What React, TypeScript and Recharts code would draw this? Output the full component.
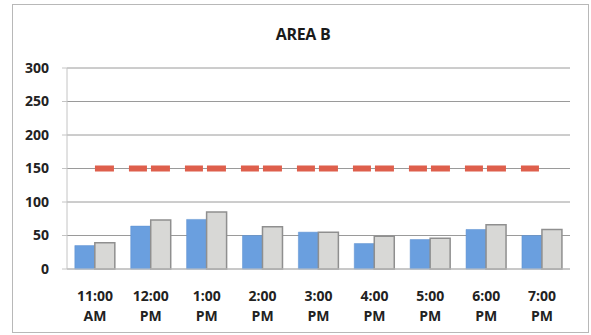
import React from "react";
import {
  ComposedChart,
  Bar,
  Line,
  XAxis,
  YAxis,
  CartesianGrid,
} from "recharts";

const hours = ["11:00", "12:00", "1:00", "2:00", "3:00", "4:00", "5:00", "6:00", "7:00"];
const periods = ["AM", "PM", "PM", "PM", "PM", "PM", "PM", "PM", "PM"];
const seriesA = [35, 64, 74, 50, 55, 38, 44, 59, 50];
const seriesB = [39, 73, 85, 63, 55, 49, 46, 66, 59];
const limit = [150, 150, 150, 150, 150, 150, 150, 150, 150];
const yTicks = [0, 50, 100, 150, 200, 250, 300];

const data = hours.map((h, i) => ({
  label: h,
  period: periods[i],
  a: seriesA[i],
  b: seriesB[i],
  limit: limit[i],
}));

const FONT = "'Open Sans', 'Noto Sans', sans-serif";

// two-line time label: hour on top, AM/PM below
function HourTick(props: any) {
  const { x, y, payload, index } = props;
  return (
    <g transform={`translate(${x},${y})`}>
      <text
        x={0}
        y={0}
        textAnchor="middle"
        fontFamily={FONT}
        fontWeight={700}
        fontSize={14}
        fill="#222"
      >
        <tspan x={0} dy={24}>{payload.value}</tspan>
        <tspan x={0} dy={20}>{periods[index]}</tspan>
      </text>
    </g>
  );
}

export default function App() {
  return (
    <div
      style={{
        position: "absolute",
        left: 0,
        top: 0,
        width: 591,
        height: 335,
        background: "#fff",
      }}
    >
      <div
        style={{
          position: "absolute",
          left: 12,
          top: 4,
          width: 575,
          height: 327,
          border: "1px solid #b8b8b8",
        }}
      />
      <div
        style={{
          position: "absolute",
          left: 0,
          top: 23,
          width: 606,
          textAlign: "center",
          fontFamily: FONT,
          fontWeight: 700,
          fontSize: 16,
          letterSpacing: -0.3,
          color: "#1a1a1a",
        }}
      >
        AREA B
      </div>
      <ComposedChart
        width={591}
        height={335}
        data={data}
        margin={{ top: 68, right: 21, bottom: 0, left: 17 }}
        barCategoryGap="14%"
        barGap={0}
        style={{ position: "absolute", left: 0, top: 0 }}
      >
        <CartesianGrid vertical={false} stroke="#9a9a9a" strokeWidth={1} />
        <XAxis
          dataKey="label"
          height={66}
          interval={0}
          tick={<HourTick />}
          tickLine={false}
          axisLine={{ stroke: "#c4c4c4" }}
        />
        <YAxis
          width={50}
          domain={[0, 300]}
          ticks={yTicks}
          interval={0}
          tickSize={5}
          tickMargin={13}
          axisLine={{ stroke: "#c4c4c4" }}
          tickLine={{ stroke: "#c4c4c4" }}
          tick={{ fontFamily: FONT, fontWeight: 700, fontSize: 14, fill: "#222" }}
        />
        <Bar dataKey="a" fill="#6a9fdf" stroke="#5b8fcf" strokeWidth={0.5} isAnimationActive={false} />
        <Bar dataKey="b" fill="#d8d8d6" stroke="#8f8f8f" strokeWidth={1.5} isAnimationActive={false} />
        <Line
          dataKey="limit"
          stroke="#de5f4c"
          strokeWidth={6}
          strokeDasharray="19 15 18 4"
          dot={false}
          activeDot={false}
          isAnimationActive={false}
        />
      </ComposedChart>
    </div>
  );
}
